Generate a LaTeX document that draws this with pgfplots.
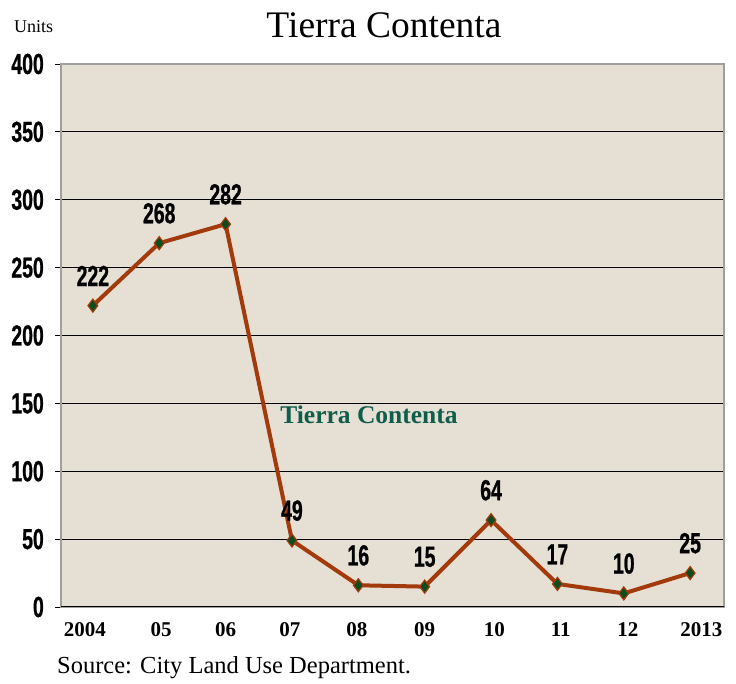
\documentclass[border=0pt]{standalone}
\usepackage{pgfplots}
\pgfplotsset{compat=1.18}
\usepackage{fontspec}
\setmainfont{Liberation Serif}
\newfontfamily\condsans[FakeStretch=0.67, BoldFeatures={FakeBold=0.8}]{Liberation Sans}
\definecolor{bgbeige}{HTML}{E6DFD4}
\definecolor{rust}{HTML}{A33A0C}
\definecolor{dkgreen}{HTML}{0B4D1E}
\definecolor{tealtxt}{HTML}{0F5E4B}
\begin{document}
\begin{tikzpicture}[x=1pt,y=1pt]
\path[use as bounding box] (0,0) rectangle (736,684);
\begin{axis}[at={(61pt,77pt)}, anchor=south west,
  width=663pt, height=543pt, scale only axis,
  xmin=-0.48, xmax=9.51, ymin=0, ymax=400,
  axis background/.style={fill=bgbeige},
  axis line style={gray!75, line width=1.5pt},
  ytick={0,50,...,400},
  ymajorgrids, grid style={black, line width=0.9pt},
  ytick pos=left, tick align=outside,
  major tick length=6pt,
  ytick style={black, line width=0.8pt},
  xtick={-0.12,1.03,2,2.97,3.98,5,6.05,7.05,8.06,9.17},
  xticklabels={2004,05,06,07,08,09,10,11,12,2013},
  xtick style={draw=none},
  /pgf/number format/assume math mode=true,
  yticklabel style={font=\condsans\bfseries\fontsize{29}{29}\selectfont, inner sep=2pt, xshift=-9pt},
  xticklabel style={font=\bfseries\fontsize{21}{21}\selectfont, yshift=-6pt},
  clip=false,
]
\addplot[rust, line width=4pt, mark=diamond*, mark size=6.5pt,
  mark options={fill=dkgreen, draw=rust, line width=1.2pt},
  nodes near coords,
  every node near coord/.style={font=\condsans\bfseries\fontsize{29}{29}\selectfont, black, anchor=south, inner sep=0pt, yshift=19pt}]
coordinates {(0,222) (1,268) (2,282) (3,49) (4,16) (5,15) (6,64) (7,17) (8,10) (9,25)};
\draw[black, line width=1pt] (axis cs:-0.48,0) -- (axis cs:9.51,0);
\end{axis}
\node at (384,659) {\fontsize{37.5}{37.5}\selectfont Tierra Contenta};
\node[anchor=base west, inner sep=0pt] at (14,651) {\fontsize{18}{18}\selectfont Units};
\node[anchor=west, inner sep=0pt] at (57,16) {\fontsize{24.5}{24.5}\selectfont Source: City Land Use Department.};
\node[font=\bfseries\fontsize{25.5}{25.5}\selectfont, text=tealtxt] at (369,269) {Tierra Contenta};
\end{tikzpicture}
\end{document}
